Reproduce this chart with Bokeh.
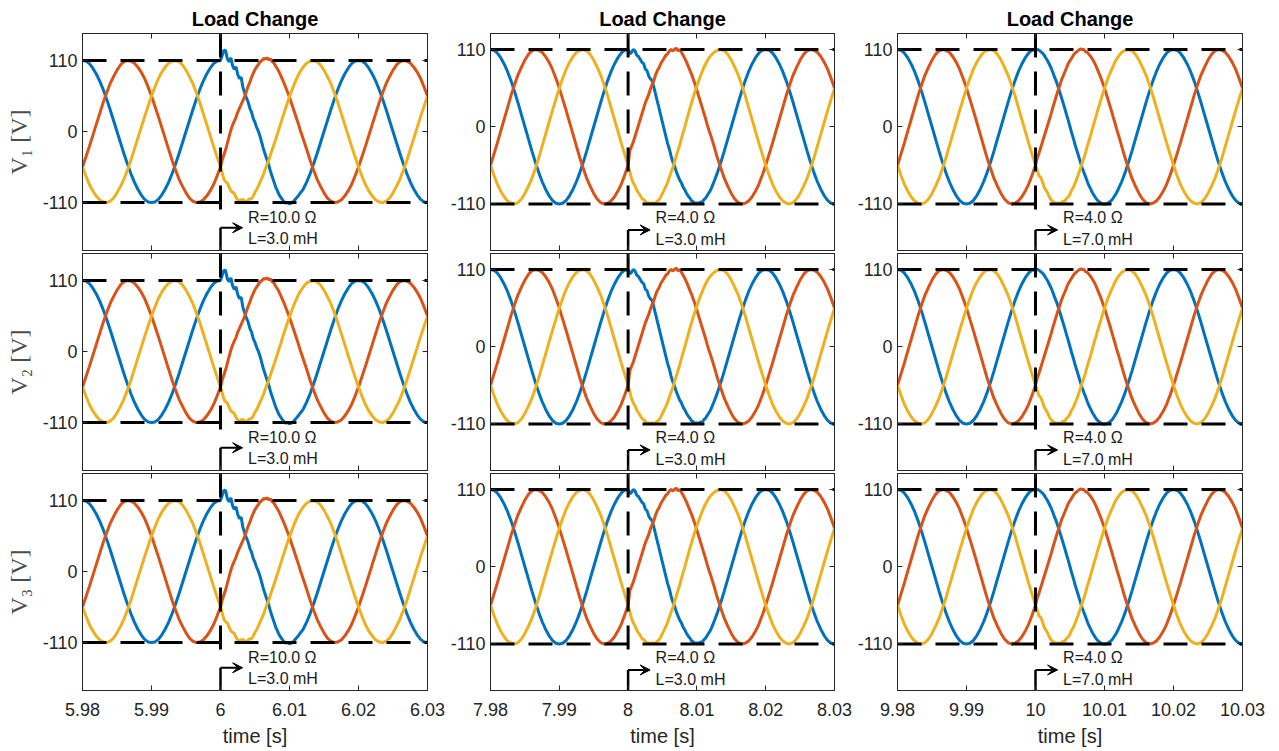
import numpy as np
from bokeh.plotting import figure
from bokeh.layouts import gridplot
from bokeh.models import Range1d, LinearAxis, FixedTicker, NumeralTickFormatter, Arrow, VeeHead
from bokeh.core.properties import value
from bokeh.embed import file_html
from bokeh.resources import INLINE

# ---------------- data ----------------
t_change = [6.0, 8.0, 10.0]
t_start = [5.98, 7.98, 9.98]
t_end = [6.03, 8.03, 10.03]
x_ticks = [[5.98, 5.99, 6.0, 6.01, 6.02, 6.03],
           [7.98, 7.99, 8.0, 8.01, 8.02, 8.03],
           [9.98, 9.99, 10.0, 10.01, 10.02, 10.03]]
y_ticks = [-110, 0, 110]
y_limits = [(-184.2, 151.7), (-176.3, 132.8), (-176.3, 132.8)]
v_nominal = 110
row_labels = ["V\u2081 [V]", "V\u2082 [V]", "V\u2083 [V]"]
title_text = "Load Change"
x_label = "time [s]"
ann_R = ["R=10.0 \u03a9", "R=4.0 \u03a9", "R=4.0 \u03a9"]
ann_L = ["L=3.0 mH", "L=3.0 mH", "L=7.0 mH"]
ann_y_R = [-133, -130, -130]
ann_y_L = [-166, -161, -161]
arrow_y = [-149, -147, -147]
vline_bottom = -125

# sample times (ms, relative to the load change)
tau_pre = np.arange(-20.0, 0.001, 0.5)
tau_post = np.arange(0.25, 12.001, 0.25)
tau_tail = np.arange(12.5, 30.001, 0.5)

# steady state before the change (same in every panel)
pre_blue = [110, 109, 105, 98, 89, 78, 65, 50, 34, 17, 0, -17, -34, -50, -65, -78, -89, -98, -105, -109, -110,
            -109, -105, -98, -89, -78, -65, -50, -34, -17, 0, 17, 34, 50, 65, 78, 89, 98, 105, 109, 110]
pre_orange = [-55, -39, -23, -6, 11, 28, 45, 60, 74, 85, 95, 103, 108, 110, 109, 106, 100, 92, 82, 69, 55,
              39, 23, 6, -11, -28, -45, -60, -74, -85, -95, -103, -108, -110, -109, -106, -100, -92, -82, -69, -55]
pre_yellow = [-55, -69, -82, -92, -100, -106, -109, -110, -108, -103, -95, -85, -74, -60, -45, -28, -11, 6, 23, 39, 55,
              69, 82, 92, 100, 106, 109, 110, 108, 103, 95, 85, 74, 60, 45, 28, 11, -6, -23, -39, -55]

# transient right after the change (0.25 .. 12 ms)
c1_blue = [118, 126, 125, 112, 108, 114, 102, 96, 100, 88, 82, 84,
           68, 60, 52, 46, 36, 30, 20, 14, 6, 0, -8, -18,
           -28, -36, -44, -52, -62, -70, -78, -86, -92, -98, -102, -106,
           -109, -111, -110, -112, -111, -109, -106, -103, -100, -96, -93, -89]
c1_orange = [-44, -36, -28, -18, -8, 2, 10, 16, 22, 30, 36, 42,
             48, 54, 62, 70, 76, 84, 90, 96, 100, 104, 108, 110,
             113, 112, 114, 111, 112, 108, 106, 101, 97, 92, 86, 80,
             74, 67, 60, 53, 45, 37, 29, 21, 13, 4, -4, -12]
c1_yellow = [-64, -74, -78, -80, -86, -92, -94, -96, -102, -106, -108, -106,
             -105, -108, -109, -106, -104, -104, -100, -94, -90, -84, -78, -72,
             -66, -58, -51, -44, -36, -28, -20, -12, -4, 5, 13, 22,
             30, 38, 46, 54, 61, 68, 75, 81, 87, 92, 96, 100]

c2_blue = [104, 106, 110, 108, 102, 100, 96, 92, 90, 82, 80, 72,
           68, 66, 56, 46, 36, 26, 16, 6, -4, -14, -24, -32,
           -42, -50, -56, -64, -70, -76, -80, -86, -90, -95, -99, -102,
           -106, -107, -110, -108, -110, -107, -108, -104, -102, -98, -94, -90]
c2_orange = [-34, -28, -22, -14, -6, 2, 10, 18, 26, 34, 40, 46,
             54, 60, 66, 74, 80, 84, 90, 94, 98, 102, 104, 108,
             110, 108, 110, 112, 108, 110, 106, 102, 97, 92, 86, 80,
             74, 67, 60, 52, 44, 36, 28, 20, 12, 3, -5, -12]
c2_yellow = [-64, -74, -80, -84, -90, -94, -98, -102, -104, -106, -110, -108,
             -110, -108, -110, -108, -106, -104, -100, -95, -90, -85, -79, -72,
             -65, -58, -50, -42, -34, -26, -17, -8, 0, 9, 18, 27,
             35, 43, 51, 58, 65, 72, 78, 84, 89, 94, 98, 101]

c3_blue = [110, 109, 107, 105, 102, 98, 94, 89, 84, 78, 71, 65,
           58, 50, 42, 34, 26, 17, 9, 0, -9, -17, -26, -34,
           -42, -50, -58, -65, -71, -78, -84, -89, -94, -98, -102, -105,
           -107, -109, -110, -110, -110, -109, -107, -105, -102, -98, -94, -89]
c3_orange = [-45, -38, -30, -22, -14, -6, 2, 10, 18, 27, 35, 43,
             51, 58, 66, 72, 78, 84, 90, 94, 98, 102, 105, 107,
             109, 111, 110, 110, 107, 106, 103, 100, 96, 92, 87, 81,
             75, 69, 62, 55, 47, 39, 31, 23, 14, 6, -3, -11]
c3_yellow = [-62, -70, -72, -78, -86, -90, -94, -100, -104, -106, -108, -110,
             -108, -110, -108, -106, -106, -102, -100, -96, -90, -86, -80, -74,
             -67, -60, -52, -45, -37, -28, -20, -12, -3, 6, 14, 23,
             31, 39, 47, 55, 62, 69, 75, 81, 86, 92, 96, 100]

# steady state after the transient (12.5 .. 30 ms)
tail_blue = [-78, -65, -50, -34, -17, 0, 17, 34, 50, 65, 78, 89, 98, 105, 109, 110, 109, 105,
             98, 89, 78, 65, 50, 34, 17, 0, -17, -34, -50, -65, -78, -89, -98, -105, -109, -110]
tail_orange = [-28, -45, -60, -74, -85, -95, -103, -108, -110, -109, -106, -100, -92, -82, -69, -55, -39, -23,
               -6, 11, 28, 45, 60, 74, 85, 95, 103, 108, 110, 109, 106, 100, 92, 82, 69, 55]
tail_yellow = [106, 109, 110, 108, 103, 95, 85, 74, 60, 45, 28, 11, -6, -23, -39, -55, -69, -82,
               -92, -100, -106, -109, -110, -108, -103, -95, -85, -74, -60, -45, -28, -11, 6, 23, 39, 55]

post = [[c1_blue, c1_orange, c1_yellow], [c2_blue, c2_orange, c2_yellow], [c3_blue, c3_orange, c3_yellow]]
pre = [pre_blue, pre_orange, pre_yellow]
tail = [tail_blue, tail_orange, tail_yellow]
phase_colors = ["#0072BD", "#D95319", "#EDB120"]

for arr in pre:
    assert len(arr) == len(tau_pre)
for arr in tail:
    assert len(arr) == len(tau_tail)
for col in post:
    for arr in col:
        assert len(arr) == len(tau_post), len(arr)

# ---------------- layout ----------------
FRAME_W, FRAME_H = 345, 217
left_b = [82, 42, 43]
right_b = [20, 20, 24]
top_b = [33, 2, 2]
bot_b = [1, 1, 61]
AX = "#262626"


def style_axis(ax, ticks, fmt, show_labels):
    ax.ticker = FixedTicker(ticks=ticks)
    ax.formatter = fmt
    ax.major_tick_in = 5
    ax.major_tick_out = 0
    ax.minor_tick_line_color = None
    ax.axis_line_color = AX
    ax.major_tick_line_color = AX
    ax.major_label_text_font = "Liberation Sans"
    if show_labels:
        ax.major_label_text_font_size = "18px"
        ax.major_label_text_color = AX
    else:
        ax.major_label_text_font_size = "0px"
        ax.major_label_text_color = None
        ax.major_label_standoff = 0


rows = []
for r in range(3):
    row = []
    for c in range(3):
        ylo, yhi = y_limits[c]
        kw = dict(width=left_b[c] + FRAME_W + right_b[c], height=top_b[r] + FRAME_H + bot_b[r],
                  x_range=Range1d(t_start[c], t_end[c]), y_range=Range1d(ylo, yhi),
                  output_backend="svg", toolbar_location=None,
                  min_border_left=left_b[c], min_border_right=right_b[c],
                  min_border_top=top_b[r], min_border_bottom=bot_b[r])
        if r == 0:
            kw["title"] = title_text
        p = figure(**kw)
        p.grid.visible = False
        p.outline_line_color = AX
        p.outline_line_width = 1
        p.background_fill_color = "white"
        p.border_fill_color = "white"
        if r == 0:
            p.title.text_font = "Liberation Sans"
            p.title.text_font_size = "20px"
            p.title.text_font_style = "bold"
            p.title.text_color = "#000000"
            p.title.align = "center"
            p.title.standoff = 7

        xfmt = NumeralTickFormatter(format="0.[00]")
        yfmt = NumeralTickFormatter(format="0")
        style_axis(p.xaxis[0], x_ticks[c], xfmt, r == 2)
        style_axis(p.yaxis[0], y_ticks, yfmt, True)
        p.yaxis[0].major_label_standoff = 5
        if r == 2:
            p.xaxis.major_label_standoff = 12
            p.xaxis.axis_label = x_label
            p.xaxis.axis_label_text_font = "Liberation Sans"
            p.xaxis.axis_label_text_font_size = "20px"
            p.xaxis.axis_label_text_font_style = "normal"
            p.xaxis.axis_label_text_color = AX
            p.xaxis.axis_label_standoff = 6
        if c == 0:
            p.yaxis.axis_label = row_labels[r]
            p.yaxis.axis_label_text_font = "Liberation Serif"
            p.yaxis.axis_label_text_font_size = "24px"
            p.yaxis.axis_label_text_font_style = "normal"
            p.yaxis.axis_label_text_color = "#4d4d4d"
            p.yaxis.axis_label_standoff = 8
        top_ax = LinearAxis()
        style_axis(top_ax, x_ticks[c], NumeralTickFormatter(format="0.[00]"), False)
        p.add_layout(top_ax, "above")
        right_ax = LinearAxis()
        style_axis(right_ax, y_ticks, NumeralTickFormatter(format="0"), False)
        p.add_layout(right_ax, "right")

        tc = t_change[c]
        for k in range(3):
            xs = np.concatenate([tc + tau_pre / 1000.0, tc + tau_post / 1000.0, tc + tau_tail / 1000.0])
            ys = np.concatenate([pre[k], post[c][k], tail[k]])
            p.line(xs, ys, line_color=phase_colors[k], line_width=3)

        # limits (dashed) and load-change marker
        for lvl in (v_nominal, -v_nominal):
            p.line([t_start[c], t_end[c]], [lvl, lvl], line_color="black", line_width=3, line_dash="24 14")
        p.line([tc, tc], [yhi, vline_bottom], line_color="black", line_width=3, line_dash="24 14")
        p.line([tc, tc], [ylo, arrow_y[c]], line_color="black", line_width=2.5)
        p.add_layout(Arrow(end=VeeHead(size=10, fill_color="black", line_color="black", line_width=1),
                           x_start=tc, y_start=arrow_y[c], x_end=tc + 0.0032, y_end=arrow_y[c],
                           line_color="black", line_width=2))
        p.text(x=[tc + 0.004, tc + 0.004], y=[ann_y_R[c], ann_y_L[c]], text=[ann_R[c], ann_L[c]],
               text_font=value("Liberation Sans"), text_font_size="16px", text_baseline="middle",
               text_align="left", text_color="#1a1a1a")
        row.append(p)
    rows.append(row)

grid = gridplot(rows, toolbar_location=None)
open("out.html", "w").write(file_html(grid, INLINE))
